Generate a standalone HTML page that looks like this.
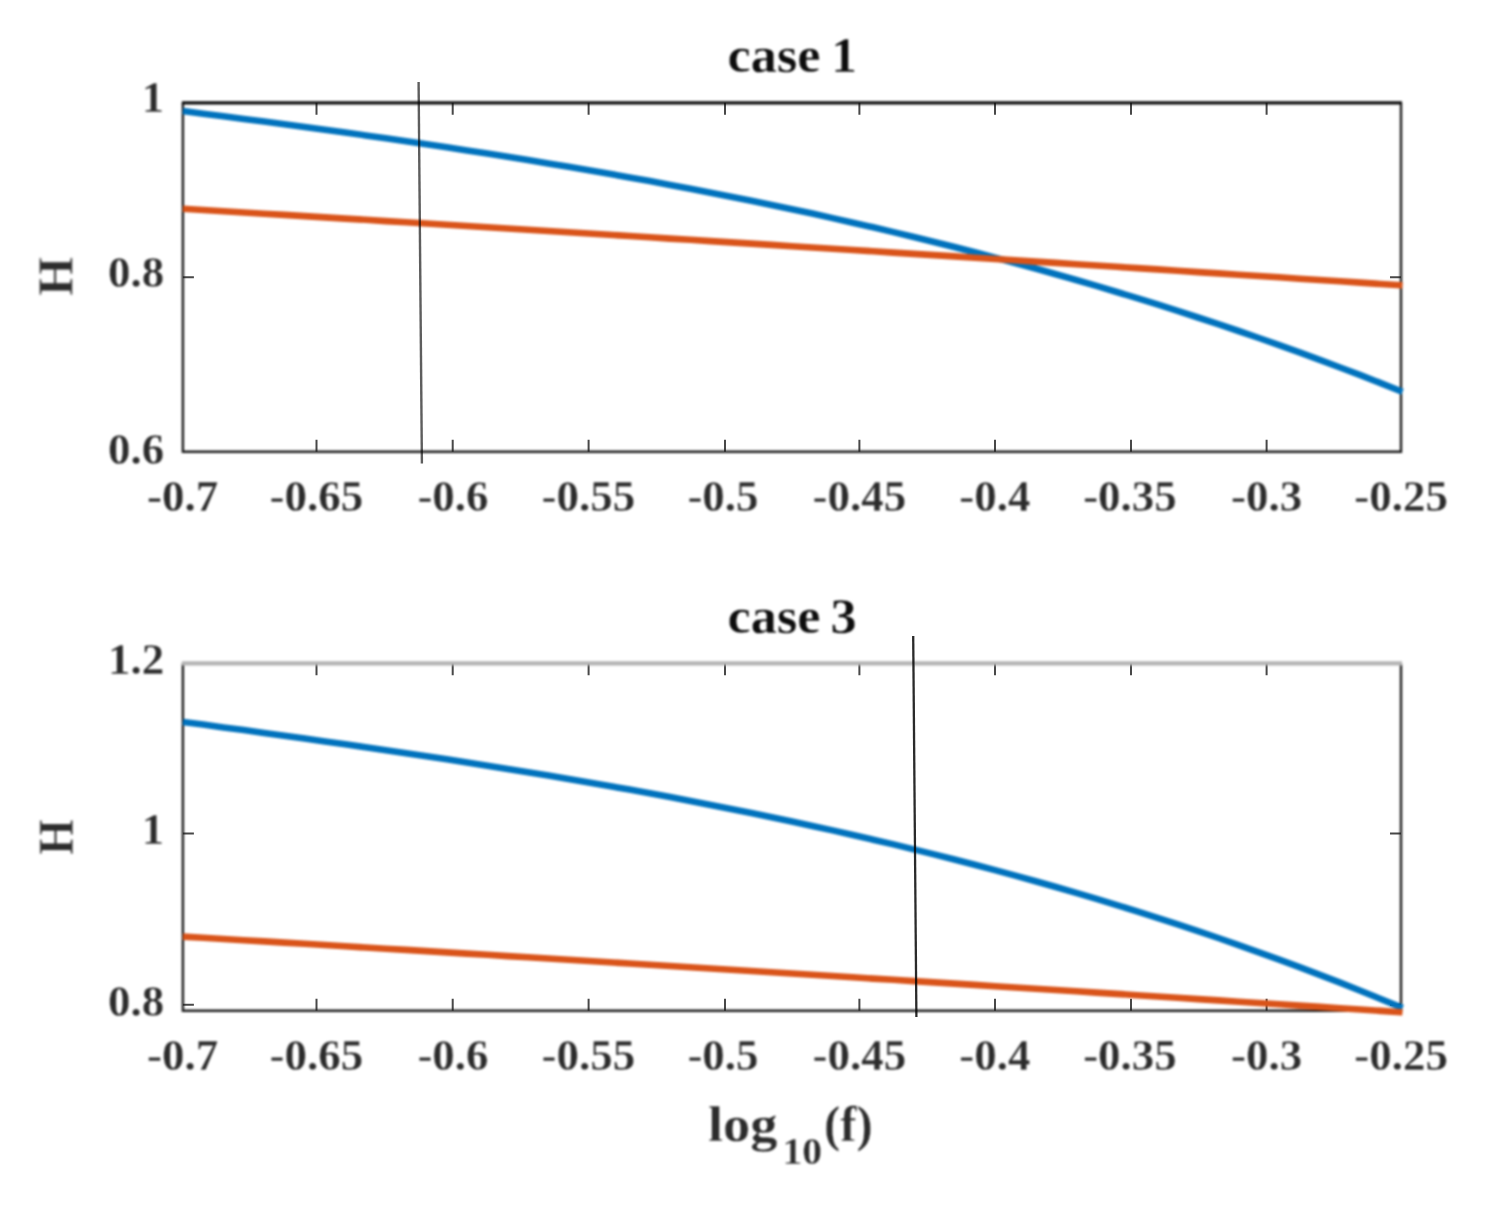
<!DOCTYPE html>
<html lang="en"><head><meta charset="utf-8"><title>H versus log10(f)</title>
<style>
html,body{margin:0;padding:0;background:#fff}
body{width:1491px;height:1205px;overflow:hidden}
svg{display:block}
text{font-family:"Liberation Serif","DejaVu Serif",serif;font-weight:bold;fill:#2c2c2c;stroke:#fff;stroke-width:.3px}
.t{font-size:45px}.l{font-size:50px}.s{font-size:38.5px}.k{fill:#0d0d0d}
.soft{filter:blur(0.9px)}
</style>
</head><body>
<svg width="1491" height="1205" viewBox="0 0 1491 1205">
<rect width="1491" height="1205" fill="#fff"/>
<path d="M316.5 451.8v-12M316.5 102.8v12M452.7 451.8v-12M452.7 102.8v12M588.6 451.8v-12M588.6 102.8v12M725.0 451.8v-12M725.0 102.8v12M859.4 451.8v-12M859.4 102.8v12M995.0 451.8v-12M995.0 102.8v12M1131.0 451.8v-12M1131.0 102.8v12M1266.6 451.8v-12M1266.6 102.8v12M182.9 277.3h11M1401.0 277.3h-11" stroke="#484848" stroke-width="2" fill="none"/>
<path d="M316.5 1010.8v-12M316.5 663.3v12M452.7 1010.8v-12M452.7 663.3v12M588.6 1010.8v-12M588.6 663.3v12M725.0 1010.8v-12M725.0 663.3v12M859.4 1010.8v-12M859.4 663.3v12M995.0 1010.8v-12M995.0 663.3v12M1131.0 1010.8v-12M1131.0 663.3v12M1266.6 1010.8v-12M1266.6 663.3v12M182.9 833.5h11M1401.0 833.5h-11M182.9 1004.7h11M1401.0 1004.7h-11" stroke="#484848" stroke-width="2" fill="none"/>
<g class="soft">
<g>
<path d="M182.9 102.8V451.8H1401.0V102.8" stroke="#1c1c1c" stroke-width="2.4" fill="none" stroke-linejoin="miter"/>
<path d="M181.9 102.8H1402.0" stroke="#0c0c0c" stroke-width="3.2" fill="none"/>
<polyline points="182.9,111.1 203.2,113.7 223.5,116.3 243.8,118.9 264.1,121.5 284.4,124.2 304.7,127.0 325.0,129.7 345.3,132.5 365.6,135.4 385.9,138.3 406.2,141.2 426.5,144.2 446.8,147.3 467.1,150.4 487.4,153.5 507.7,156.7 528.0,160.0 548.3,163.4 568.6,166.8 588.9,170.2 609.2,173.8 629.5,177.4 649.8,181.1 670.1,184.9 690.4,188.7 710.7,192.7 731.0,196.7 751.3,200.8 771.6,205.0 791.9,209.2 812.3,213.6 832.6,218.1 852.9,222.7 873.2,227.3 893.5,232.1 913.8,237.0 934.1,242.0 954.4,247.0 974.7,252.2 995.0,257.6 1015.3,263.0 1035.6,268.5 1055.9,274.2 1076.2,280.0 1096.5,285.9 1116.8,292.0 1137.1,298.1 1157.4,304.4 1177.7,310.9 1198.0,317.5 1218.3,324.2 1238.6,331.0 1258.9,338.0 1279.2,345.2 1299.5,352.4 1319.8,359.9 1340.1,367.5 1360.4,375.2 1380.7,383.1 1401.0,391.2 1402.5,391.8" stroke="#0072bd" stroke-width="6.6" fill="none" stroke-linejoin="round"/>
<polyline points="182.9,208.8 203.2,210.0 223.5,211.2 243.8,212.5 264.1,213.7 284.4,214.9 304.7,216.1 325.0,217.4 345.3,218.6 365.6,219.8 385.9,221.1 406.2,222.3 426.5,223.5 446.8,224.8 467.1,226.0 487.4,227.3 507.7,228.5 528.0,229.8 548.3,231.0 568.6,232.3 588.9,233.5 609.2,234.8 629.5,236.0 649.8,237.3 670.1,238.6 690.4,239.8 710.7,241.1 731.0,242.4 751.3,243.6 771.6,244.9 791.9,246.2 812.3,247.5 832.6,248.7 852.9,250.0 873.2,251.3 893.5,252.6 913.8,253.9 934.1,255.1 954.4,256.4 974.7,257.7 995.0,259.0 1015.3,260.3 1035.6,261.6 1055.9,262.9 1076.2,264.2 1096.5,265.5 1116.8,266.8 1137.1,268.1 1157.4,269.4 1177.7,270.8 1198.0,272.1 1218.3,273.4 1238.6,274.7 1258.9,276.0 1279.2,277.3 1299.5,278.7 1319.8,280.0 1340.1,281.3 1360.4,282.6 1380.7,284.0 1401.0,285.3 1402.5,285.4" stroke="#d95319" stroke-width="6.6" fill="none" stroke-linejoin="round"/>
<text class="t" x="182.6" y="511.2" text-anchor="middle" textLength="71.2" lengthAdjust="spacingAndGlyphs">-0.7</text>
<text class="t" x="316.4" y="511.2" text-anchor="middle" textLength="93.7" lengthAdjust="spacingAndGlyphs">-0.65</text>
<text class="t" x="453.0" y="511.2" text-anchor="middle" textLength="71.2" lengthAdjust="spacingAndGlyphs">-0.6</text>
<text class="t" x="588.4" y="511.2" text-anchor="middle" textLength="93.7" lengthAdjust="spacingAndGlyphs">-0.55</text>
<text class="t" x="723.0" y="511.2" text-anchor="middle" textLength="71.2" lengthAdjust="spacingAndGlyphs">-0.5</text>
<text class="t" x="859.4" y="511.2" text-anchor="middle" textLength="93.7" lengthAdjust="spacingAndGlyphs">-0.45</text>
<text class="t" x="994.8" y="511.2" text-anchor="middle" textLength="71.2" lengthAdjust="spacingAndGlyphs">-0.4</text>
<text class="t" x="1130.0" y="511.2" text-anchor="middle" textLength="93.7" lengthAdjust="spacingAndGlyphs">-0.35</text>
<text class="t" x="1266.6" y="511.2" text-anchor="middle" textLength="71.2" lengthAdjust="spacingAndGlyphs">-0.3</text>
<text class="t" x="1401.2" y="511.2" text-anchor="middle" textLength="93.7" lengthAdjust="spacingAndGlyphs">-0.25</text>
<text class="t" x="164.2" y="112.2" text-anchor="end" textLength="22.5" lengthAdjust="spacingAndGlyphs">1</text>
<text class="t" x="164.2" y="286.7" text-anchor="end" textLength="56.2" lengthAdjust="spacingAndGlyphs">0.8</text>
<text class="t" x="164.2" y="464.2" text-anchor="end" textLength="56.2" lengthAdjust="spacingAndGlyphs">0.6</text>
<text class="l" transform="translate(72.4 276.4) rotate(-90)" text-anchor="middle" textLength="38.6" lengthAdjust="spacingAndGlyphs">H</text>
<text class="l k" y="71.8"><tspan x="727.6" textLength="93" lengthAdjust="spacingAndGlyphs">case</tspan> <tspan x="831.2" textLength="25.6" lengthAdjust="spacingAndGlyphs">1</tspan></text>
</g>
<g>
<path d="M182.9 663.3V1010.8H1401.0V663.3" stroke="#1c1c1c" stroke-width="2.4" fill="none" stroke-linejoin="miter"/>
<path d="M181.9 663.3H1402.0" stroke="#b4b4b4" stroke-width="4.2" fill="none"/>
<polyline points="182.9,721.9 203.2,724.6 223.5,727.4 243.8,730.1 264.1,732.9 284.4,735.7 304.7,738.6 325.0,741.4 345.3,744.3 365.6,747.2 385.9,750.2 406.2,753.2 426.5,756.2 446.8,759.3 467.1,762.5 487.4,765.7 507.7,768.9 528.0,772.2 548.3,775.6 568.6,779.0 588.9,782.5 609.2,786.0 629.5,789.6 649.8,793.3 670.1,797.1 690.4,801.0 710.7,804.9 731.0,808.9 751.3,813.0 771.6,817.2 791.9,821.5 812.3,825.9 832.6,830.4 852.9,835.0 873.2,839.7 893.5,844.4 913.8,849.4 934.1,854.4 954.4,859.5 974.7,864.8 995.0,870.1 1015.3,875.6 1035.6,881.3 1055.9,887.0 1076.2,892.9 1096.5,898.9 1116.8,905.1 1137.1,911.4 1157.4,917.8 1177.7,924.4 1198.0,931.1 1218.3,938.0 1238.6,945.1 1258.9,952.3 1279.2,959.6 1299.5,967.2 1319.8,974.9 1340.1,982.7 1360.4,990.8 1380.7,999.0 1401.0,1007.3 1402.5,1008.0" stroke="#0072bd" stroke-width="6.6" fill="none" stroke-linejoin="round"/>
<polyline points="182.9,936.6 203.2,937.8 223.5,939.0 243.8,940.2 264.1,941.4 284.4,942.6 304.7,943.8 325.0,945.0 345.3,946.2 365.6,947.5 385.9,948.7 406.2,949.9 426.5,951.1 446.8,952.4 467.1,953.6 487.4,954.8 507.7,956.1 528.0,957.3 548.3,958.5 568.6,959.8 588.9,961.0 609.2,962.2 629.5,963.5 649.8,964.7 670.1,966.0 690.4,967.2 710.7,968.5 731.0,969.7 751.3,971.0 771.6,972.2 791.9,973.5 812.3,974.8 832.6,976.0 852.9,977.3 873.2,978.6 893.5,979.8 913.8,981.1 934.1,982.4 954.4,983.6 974.7,984.9 995.0,986.2 1015.3,987.5 1035.6,988.8 1055.9,990.0 1076.2,991.3 1096.5,992.6 1116.8,993.9 1137.1,995.2 1157.4,996.5 1177.7,997.8 1198.0,999.1 1218.3,1000.4 1238.6,1001.7 1258.9,1003.0 1279.2,1004.3 1299.5,1005.6 1319.8,1006.9 1340.1,1008.2 1360.4,1009.5 1380.7,1010.9 1401.0,1012.2 1402.5,1012.3" stroke="#d95319" stroke-width="6.6" fill="none" stroke-linejoin="round"/>
<text class="t" x="182.6" y="1070.2" text-anchor="middle" textLength="71.2" lengthAdjust="spacingAndGlyphs">-0.7</text>
<text class="t" x="316.4" y="1070.2" text-anchor="middle" textLength="93.7" lengthAdjust="spacingAndGlyphs">-0.65</text>
<text class="t" x="453.0" y="1070.2" text-anchor="middle" textLength="71.2" lengthAdjust="spacingAndGlyphs">-0.6</text>
<text class="t" x="588.4" y="1070.2" text-anchor="middle" textLength="93.7" lengthAdjust="spacingAndGlyphs">-0.55</text>
<text class="t" x="723.0" y="1070.2" text-anchor="middle" textLength="71.2" lengthAdjust="spacingAndGlyphs">-0.5</text>
<text class="t" x="859.4" y="1070.2" text-anchor="middle" textLength="93.7" lengthAdjust="spacingAndGlyphs">-0.45</text>
<text class="t" x="994.8" y="1070.2" text-anchor="middle" textLength="71.2" lengthAdjust="spacingAndGlyphs">-0.4</text>
<text class="t" x="1130.0" y="1070.2" text-anchor="middle" textLength="93.7" lengthAdjust="spacingAndGlyphs">-0.35</text>
<text class="t" x="1266.6" y="1070.2" text-anchor="middle" textLength="71.2" lengthAdjust="spacingAndGlyphs">-0.3</text>
<text class="t" x="1401.2" y="1070.2" text-anchor="middle" textLength="93.7" lengthAdjust="spacingAndGlyphs">-0.25</text>
<text class="t" x="164.2" y="674.1" text-anchor="end" textLength="56.2" lengthAdjust="spacingAndGlyphs">1.2</text>
<text class="t" x="164.2" y="843.9" text-anchor="end" textLength="22.5" lengthAdjust="spacingAndGlyphs">1</text>
<text class="t" x="164.2" y="1016.2" text-anchor="end" textLength="56.2" lengthAdjust="spacingAndGlyphs">0.8</text>
<text class="l" transform="translate(72.8 837.0) rotate(-90)" text-anchor="middle" textLength="35.4" lengthAdjust="spacingAndGlyphs">H</text>
<text class="l k" y="632.5"><tspan x="727.6" textLength="93" lengthAdjust="spacingAndGlyphs">case</tspan> <tspan x="830.4" textLength="26.2" lengthAdjust="spacingAndGlyphs">3</tspan></text>
</g>
<text class="l" y="1140.6"><tspan x="708" textLength="69.5" lengthAdjust="spacingAndGlyphs">log</tspan><tspan class="s" x="782.4" y="1164.2" textLength="39.6" lengthAdjust="spacingAndGlyphs">10</tspan><tspan x="824" y="1140.6" textLength="48.6" lengthAdjust="spacingAndGlyphs">(f)</tspan></text>
</g>
<line x1="418.6" y1="82" x2="421.9" y2="463.5" stroke="#5e5e5e" stroke-width="2.4" style="mix-blend-mode:multiply"/>
<line x1="913.2" y1="636" x2="916.4" y2="1017" stroke="#2a2a2a" stroke-width="2.3" style="mix-blend-mode:multiply"/>
</svg></body></html>
